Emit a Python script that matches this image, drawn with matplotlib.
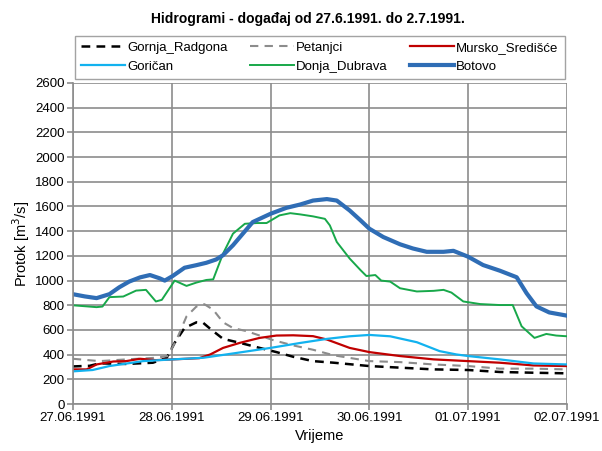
import matplotlib
matplotlib.use('Agg')
import matplotlib.pyplot as plt

plt.rcParams['font.family'] = ['Liberation Sans', 'DejaVu Sans']

# vrijeme u danima od 27.06.1991. 00:00
tick_labels = ['27.06.1991', '28.06.1991', '29.06.1991', '30.06.1991', '01.07.1991', '02.07.1991']

t_gornja = [0, 0.17, 0.27, 0.54, 0.81, 0.95, 1.03, 1.13, 1.25, 1.32, 1.4, 1.52, 1.69, 1.89,
            2.06, 2.23, 2.43, 2.64, 3.0, 3.31, 3.65, 4.0, 4.32, 4.66, 5.0]
q_gornja = [305, 310, 330, 325, 335, 375, 496, 616, 662, 657, 603, 528, 496, 455,
            421, 383, 348, 335, 308, 295, 281, 276, 260, 254, 249]

t_petanjci = [0, 0.27, 0.54, 0.84, 0.96, 1.05, 1.15, 1.25, 1.33, 1.42, 1.52, 1.62, 1.76, 1.89,
              2.03, 2.23, 2.43, 2.64, 3.0, 3.31, 3.65, 4.0, 4.32, 4.66, 5.0]
q_petanjci = [367, 348, 362, 375, 389, 523, 710, 790, 809, 764, 662, 616, 590, 555,
              517, 475, 440, 395, 348, 340, 321, 308, 287, 287, 281]

t_mursko = [0, 0.14, 0.24, 0.41, 0.54, 0.68, 0.84, 1.01, 1.15, 1.28, 1.39, 1.52, 1.69, 1.89,
            2.06, 2.23, 2.43, 2.57, 2.8, 3.0, 3.31, 3.65, 4.0, 4.32, 4.66, 5.0]
q_mursko = [281, 281, 321, 345, 348, 367, 356, 362, 367, 372, 402, 455, 496, 536,
            555, 557, 550, 523, 455, 421, 389, 362, 348, 335, 313, 308]

t_gorican = [0, 0.2, 0.37, 0.71, 1.01, 1.32, 1.62, 2.0, 2.3, 2.57, 2.8, 3.0, 3.21, 3.48,
             3.71, 3.88, 4.0, 4.32, 4.66, 5.0]
q_gorican = [265, 276, 308, 348, 362, 375, 410, 455, 495, 528, 549, 560, 549, 501,
             429, 402, 389, 362, 329, 321]

t_donja = [0, 0.24, 0.3, 0.37, 0.51, 0.64, 0.74, 0.84, 0.9, 1.03, 1.15, 1.25, 1.35, 1.42,
           1.52, 1.62, 1.74, 1.86, 1.96, 2.09, 2.2, 2.3, 2.43, 2.55, 2.6, 2.67, 2.8, 2.91,
           2.97, 3.06, 3.12, 3.21, 3.31, 3.48, 3.65, 3.75, 3.83, 3.95, 4.12, 4.32, 4.45,
           4.54, 4.67, 4.79, 4.89, 5.0]
q_donja = [800, 785, 790, 866, 871, 919, 925, 831, 844, 1000, 957, 984, 1005, 1010,
           1219, 1380, 1460, 1466, 1466, 1528, 1546, 1536, 1520, 1500, 1447, 1313, 1179, 1085,
           1037, 1045, 1000, 992, 938, 912, 917, 925, 903, 831, 810, 802, 802,
           630, 536, 568, 555, 549]

t_botovo = [0, 0.12, 0.24, 0.37, 0.47, 0.57, 0.68, 0.78, 0.88, 0.93, 1.01, 1.13, 1.25, 1.35,
            1.45, 1.52, 1.62, 1.72, 1.82, 2.0, 2.16, 2.3, 2.43, 2.57, 2.67, 2.8, 2.91, 3.0,
            3.14, 3.31, 3.44, 3.58, 3.75, 3.85, 4.0, 4.15, 4.32, 4.49, 4.59, 4.69, 4.82, 5.0]
q_botovo = [890, 872, 858, 890, 946, 992, 1026, 1045, 1018, 1000, 1037, 1104, 1125, 1144,
            1171, 1206, 1286, 1380, 1474, 1541, 1589, 1616, 1648, 1660, 1648, 1568, 1488, 1420,
            1353, 1294, 1260, 1233, 1233, 1241, 1193, 1126, 1080, 1027, 898, 791, 742, 716]

fig = plt.figure(figsize=(6.02, 4.51), dpi=100)
ax = fig.add_axes([0.121, 0.104, 0.821, 0.712])

l1, = ax.plot(t_gornja, q_gornja, color='black', lw=1.8, ls=(0, (3.5, 2.5)), label='Gornja_Radgona')
l2, = ax.plot(t_petanjci, q_petanjci, color='#8c8c8c', lw=1.5, ls=(0, (4, 3)), label='Petanjci')
l3, = ax.plot(t_mursko, q_mursko, color='#c00000', lw=1.6, label='Mursko_Središće')
l4, = ax.plot(t_gorican, q_gorican, color='#12b2ef', lw=1.6, label='Goričan')
l5, = ax.plot(t_donja, q_donja, color='#18a84a', lw=1.4, label='Donja_Dubrava')
l6, = ax.plot(t_botovo, q_botovo, color='#2f6db5', lw=3.0, label='Botovo')

ax.set_xlim(0, 5)
ax.set_ylim(0, 2600)
ax.set_xticks(range(6))
ax.set_xticklabels(tick_labels)
ax.set_yticks(range(0, 2601, 200))
ax.grid(True, color='#8c8c8c', lw=1.2)
ax.set_axisbelow(True)
for s in ['top', 'right']:
    ax.spines[s].set_visible(False)
for s in ['left', 'bottom']:
    ax.spines[s].set_color('#8c8c8c')
    ax.spines[s].set_linewidth(1.2)
ax.tick_params(direction='out', color='#8c8c8c', length=4, width=1.2, labelsize=9.5, pad=2)

ax.set_xlabel('Vrijeme', fontsize=10.5, labelpad=3)
ax.set_ylabel('Protok [m$^3$/s]', fontsize=10.5, labelpad=2)

fig.text(0.512, 0.958, 'Hidrogrami - događaj od 27.6.1991. do 2.7.1991.',
         ha='center', va='center', fontsize=10, fontweight='bold')

# legenda red po red (matplotlib puni po stupcima)
handles = [l1, l4, l2, l5, l3, l6]
leg = ax.legend(handles=handles, ncol=3, loc='lower left', bbox_to_anchor=(0.005, 1.013, 0.99, 0.1),
                mode='expand', fontsize=9.5, frameon=True, fancybox=False,
                handlelength=3.3, handletextpad=0.2, borderpad=0.45, labelspacing=0.5,
                borderaxespad=0)
leg.get_frame().set_edgecolor('#8c8c8c')
leg.get_frame().set_linewidth(1.0)

fig.savefig('out.png', dpi=100)
